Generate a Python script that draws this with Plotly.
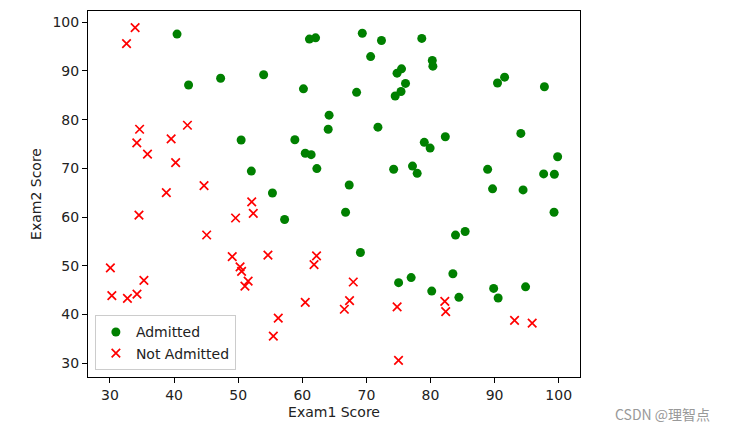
import plotly.graph_objects as go

# ex2data1: exam scores and admission outcome
exam1 = [34.62, 30.29, 35.85, 60.18, 79.03, 45.08, 61.11, 75.02, 76.10, 84.43,
         95.86, 75.01, 82.31, 69.36, 39.54, 53.97, 69.07, 67.95, 70.66, 76.98,
         67.37, 89.68, 50.53, 34.21, 77.92, 62.27, 80.19, 93.11, 61.83, 38.79,
         61.38, 85.40, 52.11, 52.05, 40.24, 54.64, 33.92, 64.18, 74.79, 34.18,
         83.90, 51.55, 94.44, 82.37, 51.05, 62.22, 77.19, 97.77, 62.07, 91.56,
         79.94, 99.27, 90.55, 34.52, 50.29, 49.59, 97.65, 32.58, 74.25, 71.80,
         75.40, 35.29, 56.25, 30.06, 44.67, 66.56, 40.46, 49.07, 80.28, 66.75,
         32.72, 64.04, 72.35, 60.46, 58.84, 99.83, 47.26, 50.46, 60.46, 82.23,
         88.91, 94.83, 67.32, 57.24, 80.37, 68.47, 42.08, 75.48, 78.64, 52.35,
         94.09, 90.45, 55.48, 74.49, 89.85, 83.49, 42.26, 99.32, 55.34, 74.78]
exam2 = [78.02, 43.89, 72.90, 86.31, 75.34, 56.32, 96.51, 46.55, 87.42, 43.53,
         38.23, 30.60, 76.48, 97.72, 76.04, 89.21, 52.74, 46.68, 92.93, 47.58,
         42.84, 65.80, 48.86, 44.21, 68.97, 69.95, 44.82, 38.80, 50.26, 65.00,
         72.81, 57.05, 63.13, 69.43, 71.17, 52.21, 98.87, 80.91, 41.57, 75.24,
         56.31, 46.86, 65.57, 40.62, 45.82, 52.06, 70.46, 86.73, 96.77, 88.70,
         74.16, 61.00, 43.39, 60.40, 49.80, 59.81, 68.86, 95.60, 69.82, 78.45,
         85.76, 47.02, 39.26, 49.59, 66.45, 41.09, 97.54, 51.88, 92.12, 60.99,
         43.31, 78.03, 96.23, 73.09, 75.86, 72.37, 88.48, 75.81, 42.51, 42.72,
         69.80, 45.69, 66.59, 59.51, 90.96, 85.59, 78.84, 90.42, 96.65, 60.77,
         77.16, 87.51, 35.57, 84.85, 45.36, 48.38, 87.10, 68.78, 64.93, 89.53]
admitted = [0, 0, 0, 1, 1, 0, 1, 1, 1, 1,
            0, 0, 1, 1, 0, 1, 1, 0, 1, 1,
            0, 1, 0, 0, 1, 1, 1, 0, 0, 0,
            1, 1, 0, 1, 0, 0, 0, 1, 0, 0,
            1, 0, 1, 0, 0, 0, 1, 1, 1, 1,
            1, 1, 1, 0, 0, 0, 1, 0, 1, 1,
            1, 0, 0, 0, 0, 0, 1, 0, 1, 1,
            0, 1, 1, 1, 1, 1, 1, 1, 0, 0,
            1, 1, 1, 1, 1, 1, 0, 1, 1, 0,
            1, 1, 0, 1, 1, 1, 1, 1, 1, 1]

pos_x = [a for a, y in zip(exam1, admitted) if y == 1]
pos_y = [b for b, y in zip(exam2, admitted) if y == 1]
neg_x = [a for a, y in zip(exam1, admitted) if y == 0]
neg_y = [b for b, y in zip(exam2, admitted) if y == 0]

font = "DejaVu Sans"
fs = 14
fig = go.Figure()
fig.add_trace(go.Scatter(x=pos_x, y=pos_y, mode="markers", name="Admitted",
                         marker=dict(symbol="circle", size=9, color="green",
                                     line=dict(width=0))))
fig.add_trace(go.Scatter(x=neg_x, y=neg_y, mode="markers", name="Not Admitted",
                         marker=dict(symbol="x-thin", size=8.5, color="red",
                                     line=dict(width=1.7, color="red"))))

axis_common = dict(showgrid=False, zeroline=False, showline=True, mirror=True,
                   linecolor="black", linewidth=1, ticks="outside", ticklen=5,
                   tickcolor="black", tickfont=dict(family=font, size=fs, color="#222222"))

fig.update_layout(
    width=730, height=431,
    margin=dict(l=88, r=149.5, t=10.5, b=54.3),
    paper_bgcolor="white", plot_bgcolor="white",
    font=dict(family=font, size=fs, color="#222222"),
    xaxis=dict(range=[26.57, 103.32], tickvals=[30, 40, 50, 60, 70, 80, 90, 100],
               title=dict(text="Exam1 Score", standoff=5, font=dict(family=font, size=fs)),
               **axis_common),
    yaxis=dict(range=[27.19, 102.28], tickvals=[30, 40, 50, 60, 70, 80, 90, 100],
               title=dict(text="Exam2 Score", standoff=7, font=dict(family=font, size=fs)),
               **axis_common),
    legend=dict(x=0.014, y=0.018, xanchor="left", yanchor="bottom",
                bgcolor="rgba(255,255,255,0.8)", bordercolor="#cccccc", borderwidth=1,
                font=dict(family=font, size=fs), itemwidth=30),
    showlegend=True,
)
fig.add_annotation(text="CSDN @理智点", xref="paper", yref="paper",
                   x=1.068, y=-0.102, xanchor="left", yanchor="middle", showarrow=False,
                   font=dict(family="Noto Sans CJK SC", size=14, color="#999999"))

fig.write_html("out.html")
